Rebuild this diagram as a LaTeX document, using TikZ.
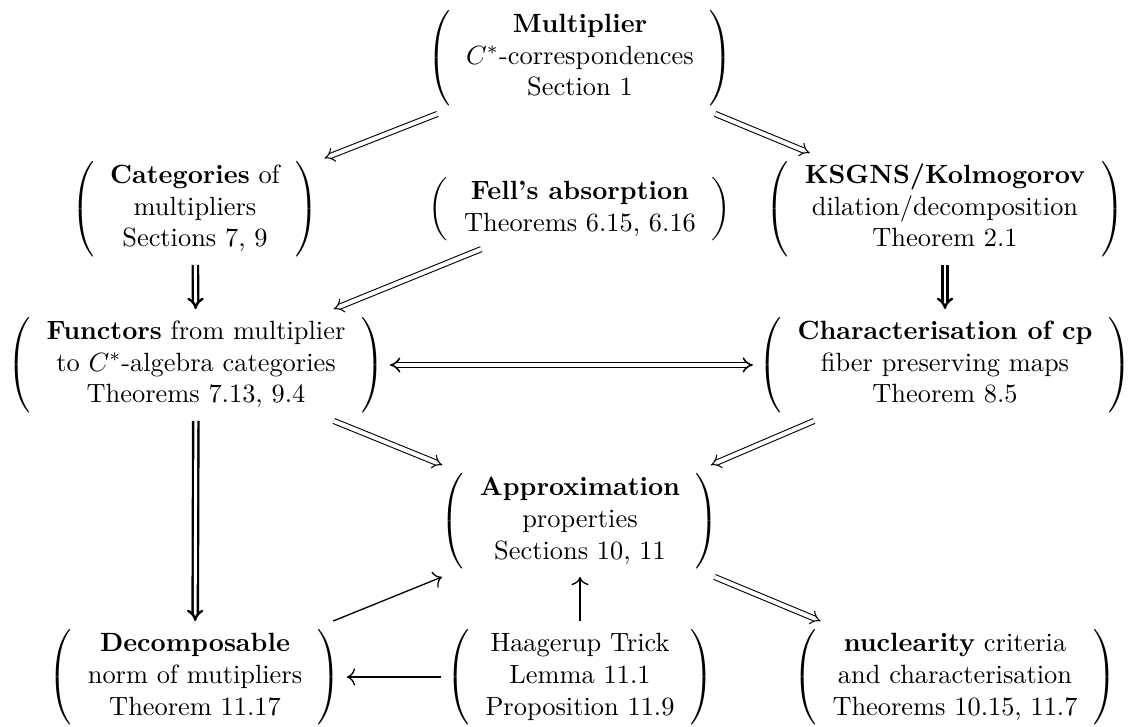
\documentclass[tikz,border=0pt]{standalone}
\usetikzlibrary{cd}
\newcommand\ctab[1]{$\left(\begin{tabular}{c}#1\end{tabular}\right)$}
\begin{document}
\begin{tikzpicture}[x=0.379pt,y=-0.379pt,
  box/.style={inner xsep=2pt,inner ysep=3pt},
  dbl/.style={commutative diagrams/.cd, every arrow, Rightarrow},
  trip/.style={commutative diagrams/.cd, every arrow, Rightarrow, /tikz/line width=0.9pt, /tikz/double distance=1.1pt},
  dblboth/.style={commutative diagrams/.cd, every arrow, Leftrightarrow, /tikz/line width=0.6pt},
  sgl/.style={commutative diagrams/.cd, every arrow, /tikz/line width=0.5pt}]
\useasboundingbox (0,0) rectangle (1136,727);
\node[box] (M) at (580,58) {\ctab{\textbf{Multiplier}\\ $C^*$-correspondences\\ Section 1}};
\node[box] (C) at (195,209) {\ctab{\textbf{Categories} of\\ multipliers\\ Sections 7, 9}};
\node[box] (F) at (580,209) {\ctab{\textbf{Fell's absorption}\\ Theorems 6.15, 6.16}};
\node[box] (K) at (945,209) {\ctab{\textbf{KSGNS/Kolmogorov}\\ dilation/decomposition\\ Theorem 2.1}};
\node[box] (Fu) at (196,365) {\ctab{\textbf{Functors} from multiplier\\ to $C^*$-algebra categories\\ Theorems 7.13, 9.4}};
\node[box] (Ch) at (945,365) {\ctab{\textbf{Characterisation of cp}\\ fiber preserving maps\\ Theorem 8.5}};
\node[box] (A) at (580,521) {\ctab{\textbf{Approximation}\\ properties\\ Sections 10, 11}};
\node[box] (D) at (195,677) {\ctab{\textbf{Decomposable}\\ norm of mutipliers\\ Theorem 11.17}};
\node[box] (H) at (580,677) {\ctab{Haagerup Trick\\ Lemma 11.1\\ Proposition 11.9}};
\node[box] (N) at (955,677) {\ctab{\textbf{nuclearity} criteria\\ and characterisation\\ Theorems 10.15, 11.7}};
\draw[dbl] (M) -- (C);
\draw[dbl] (M) -- (K);
\draw[dbl] (F) -- (Fu);
\draw[trip] (C) -- (Fu);
\draw[trip] (K) -- (Ch);
\draw[dblboth] (Fu) -- (Ch);
\draw[dbl] (Fu) -- (A);
\draw[dbl] (Ch) -- (A);
\draw[trip] (Fu) -- (D);
\draw[dbl] (A) -- (N);
\draw[sgl] (D) -- (A);
\draw[sgl] (H) -- (A);
\draw[sgl] (H) -- (D);
\end{tikzpicture}
\end{document}
